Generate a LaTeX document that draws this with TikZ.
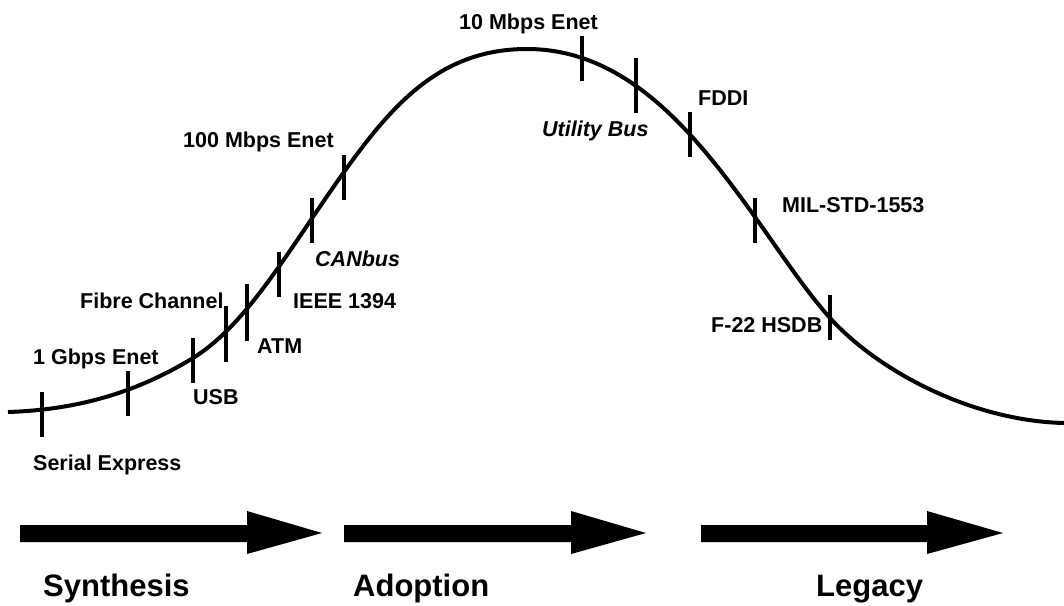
\documentclass[tikz,border=0pt]{standalone}
\usepackage{fontspec}
\setmainfont{Liberation Sans}
\usetikzlibrary{positioning}

\begin{document}
\begin{tikzpicture}[
    x=1pt, y=-1pt,
    curve/.style={line width=4pt},
    tickmark/.style={line width=3.5pt},
    busname/.style={
        anchor=base west,
        inner sep=0pt,
        font=\fontsize{21.5}{25}\selectfont\bfseries
    },
    oldbus/.style={busname, font=\fontsize{21.5}{25}\selectfont\bfseries\itshape},
    phase/.style={
        anchor=base west,
        inner sep=0pt,
        font=\fontsize{31}{36}\selectfont\bfseries
    },
    phasearrow/.style={fill=black}
]
\useasboundingbox (0,0) rectangle (1064,605);

% life cycle curve
\draw[curve] (8,412)
    .. controls (70,410) and (131,396) .. (193,358)
    .. controls (248,324) and (289,249) .. (344,172)
    .. controls (394,102) and (442,49) .. (527,49)
    .. controls (627,49) and (695,133) .. (755,217)
    .. controls (780,252) and (805,290) .. (830,318)
    .. controls (880,373) and (974,421) .. (1064,423);

% ticks on the curve
\foreach \x/\top/\bot in {42/392/437, 128/371/416, 193/338/383, 226/306/362,
    247/284/341, 279/252/297, 312/198/243, 344/155/200, 582/36/81,
    636/58/113, 690/112/157, 755/198/243, 830/295/340}
    \draw[tickmark] (\x,\top) -- (\x,\bot);

\node[busname] (serial) at (33,470) {Serial Express};
\node[busname] (gbps) at (33,364) {1 Gbps Enet};
\node[busname] (usb) at (193,404) {USB};
\node[busname] (fibre) at (80,308) {Fibre Channel};
\node[busname] (atm) at (257,353) {ATM};
\node[busname] (ieee) at (293,308) {IEEE 1394};
\node[oldbus] (canbus) at (315,266) {CANbus};
\node[busname] (hundred) at (183,147) {100 Mbps Enet};
\node[busname] (ten) at (459,29) {10 Mbps Enet};
\node[oldbus] (utility) at (542,136) {Utility Bus};
\node[busname] (fddi) at (698,105) {FDDI};
\node[busname] (milstd) at (782,212) {MIL-STD-1553};
\node[busname] (hsdb) at (711,332) {F-22 HSDB};

% phase arrows
\foreach \s/\b/\t in {20/247/322, 344/571/646, 701/927/1003}
    \fill[phasearrow] (\s,525) -- (\b,525) -- (\b,511) -- (\t,533)
        -- (\b,554) -- (\b,542) -- (\s,542) -- cycle;

\node[phase] (synthesis) at (43,596) {Synthesis};
\node[phase] (adoption) at (353,596) {Adoption};
\node[phase] (legacy) at (816,596) {Legacy};

\end{tikzpicture}
\end{document}
